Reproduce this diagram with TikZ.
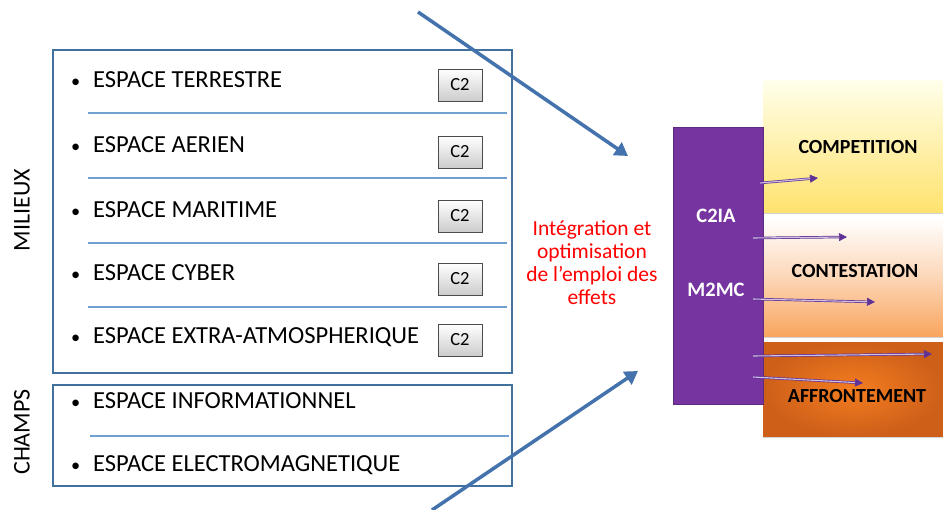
\documentclass[tikz,border=0pt]{standalone}
\usepackage{fontspec}
\setmainfont{Carlito}
\usetikzlibrary{arrows.meta,shadows}
\definecolor{boxblue}{RGB}{65,113,156}
\definecolor{seplite}{RGB}{110,160,210}
\definecolor{arrblue}{RGB}{68,114,172}
\definecolor{barpurple}{RGB}{118,52,160}
\definecolor{arrpurple}{RGB}{95,50,150}
\definecolor{yelbot}{RGB}{255,226,110}
\definecolor{orgbot}{RGB}{249,165,95}
\definecolor{affin}{RGB}{245,125,32}
\definecolor{affout}{RGB}{205,95,25}
\begin{document}
\begin{tikzpicture}[x=1pt,y=-1pt,
  frame/.style={draw=boxblue,line width=1.8pt,anchor=north west,inner sep=0pt},
  sep/.style={draw=seplite,line width=1.2pt},
  item/.style={anchor=west,inner sep=0pt,font=\fontsize{24.5}{28}\selectfont},
  cbtn/.style={draw=gray!60!black,line width=0.6pt,top color=white,bottom color=gray!40,
     minimum width=44pt,minimum height=32pt,inner sep=0pt,font=\fontsize{18.5}{22}\selectfont,
     drop shadow={shadow xshift=1pt,shadow yshift=-1pt,opacity=0.4}},
  side/.style={rotate=90,inner sep=0pt,font=\fontsize{24}{28}\selectfont},
  bigarrow/.style={draw=arrblue,line width=3.5pt,-{Triangle[length=13pt,width=15pt]}},
  parrow/.style={draw=arrpurple,line width=0.7pt,double=arrpurple!30,double distance=1.1pt,-{Triangle[length=8pt,width=8pt]}},
  level/.style={anchor=north west,minimum width=180pt,inner sep=0pt,
     drop shadow={shadow xshift=0pt,shadow yshift=-2pt,opacity=0.35}},
  lvtext/.style={font=\bfseries\fontsize{20}{24}\selectfont,inner sep=0pt},
  bartext/.style={font=\bfseries\fontsize{20.5}{24}\selectfont,text=white,inner sep=0pt}
]
\useasboundingbox (0,0) rectangle (943,510);

% frames
\node[frame,minimum width=459pt,minimum height=323pt] (milieux) at (52,49) {};
\node[frame,minimum width=459pt,minimum height=101pt] (champs) at (52,384) {};

\node[side] (lmil) at (22,210) {MILIEUX};
\node[side] (lcha) at (22,432) {CHAMPS};

% separators
\draw[sep] (88,113) -- (507,113);
\draw[sep] (88,178) -- (507,178);
\draw[sep] (88,243) -- (507,243);
\draw[sep] (88,307) -- (507,307);
\draw[sep] (90,436) -- (509,436);

\newcommand{\bul}{\llap{\scalebox{0.75}{\textbullet}\hspace{13pt}}}
% items
\node[item] (t1) at (93,80) {\bul ESPACE TERRESTRE};
\node[item] (t2) at (93,145) {\bul ESPACE AERIEN};
\node[item] (t3) at (93,210) {\bul ESPACE MARITIME};
\node[item] (t4) at (93,273) {\bul ESPACE CYBER};
\node[item] (t5) at (93,337) {\bul ESPACE EXTRA-ATMOSPHERIQUE};
\node[item] (t6) at (93,401) {\bul ESPACE INFORMATIONNEL};
\node[item] (t7) at (93,465) {\bul ESPACE ELECTROMAGNETIQUE};

% C2 buttons
\node[cbtn] (c1) at (460,85) {C2};
\node[cbtn] (c2) at (460,152) {C2};
\node[cbtn] (c3) at (460,216) {C2};
\node[cbtn] (c4) at (460,279) {C2};
\node[cbtn] (c5) at (460,340) {C2};

% red text
\node[align=center,text=red,inner sep=0pt,font=\fontsize{21.5}{23}\selectfont] (integ) at (592,263)
  {Intégration et\\optimisation\\de l’emploi des\\effets};

% levels
\node[level,minimum height=132pt,top color=yellow!8!white,bottom color=yelbot] (comp) at (763,80) {};
\node[level,minimum height=118pt,top color=white,bottom color=orgbot,middle color=orgbot!45!white] (cont) at (763,218) {};
\node[level,minimum height=94pt,inner color=affin,outer color=affout] (affr) at (763,342) {};
\node[lvtext] (tcomp) at (858,147) {COMPETITION};
\node[lvtext] (tcont) at (855,271) {CONTESTATION};
\node[lvtext] (taffr) at (857,396) {AFFRONTEMENT};

% purple bar
\node[anchor=north west,fill=barpurple,draw=barpurple!80!black,line width=0.6pt,minimum width=90pt,minimum height=277pt,inner sep=0pt,
  drop shadow={shadow xshift=1pt,shadow yshift=-1pt,opacity=0.3}] (bar) at (673,127) {};
\node[bartext] (c2ia) at (716,216) {C2IA};
\node[bartext] (m2mc) at (716,290) {M2MC};

% purple arrows
\coordinate (pa1s) at (760,183); \coordinate (pa1e) at (818,178);
\coordinate (pa2s) at (753,238); \coordinate (pa2e) at (847,237);
\coordinate (pa3s) at (753,299); \coordinate (pa3e) at (875,302);
\coordinate (pa4s) at (753,356); \coordinate (pa4e) at (932,354);
\coordinate (pa5s) at (753,377); \coordinate (pa5e) at (863,383);
\draw[parrow] (pa1s) -- (pa1e);
\draw[parrow] (pa2s) -- (pa2e);
\draw[parrow] (pa3s) -- (pa3e);
\draw[parrow] (pa4s) -- (pa4e);
\draw[parrow] (pa5s) -- (pa5e);

% blue arrows
\coordinate (ba1s) at (418,12); \coordinate (ba1e) at (628,156);
\coordinate (ba2s) at (432,510); \coordinate (ba2e) at (638,371);
\draw[bigarrow] (ba1s) -- (ba1e);
\draw[bigarrow] (ba2s) -- (ba2e);
\end{tikzpicture}
\end{document}
